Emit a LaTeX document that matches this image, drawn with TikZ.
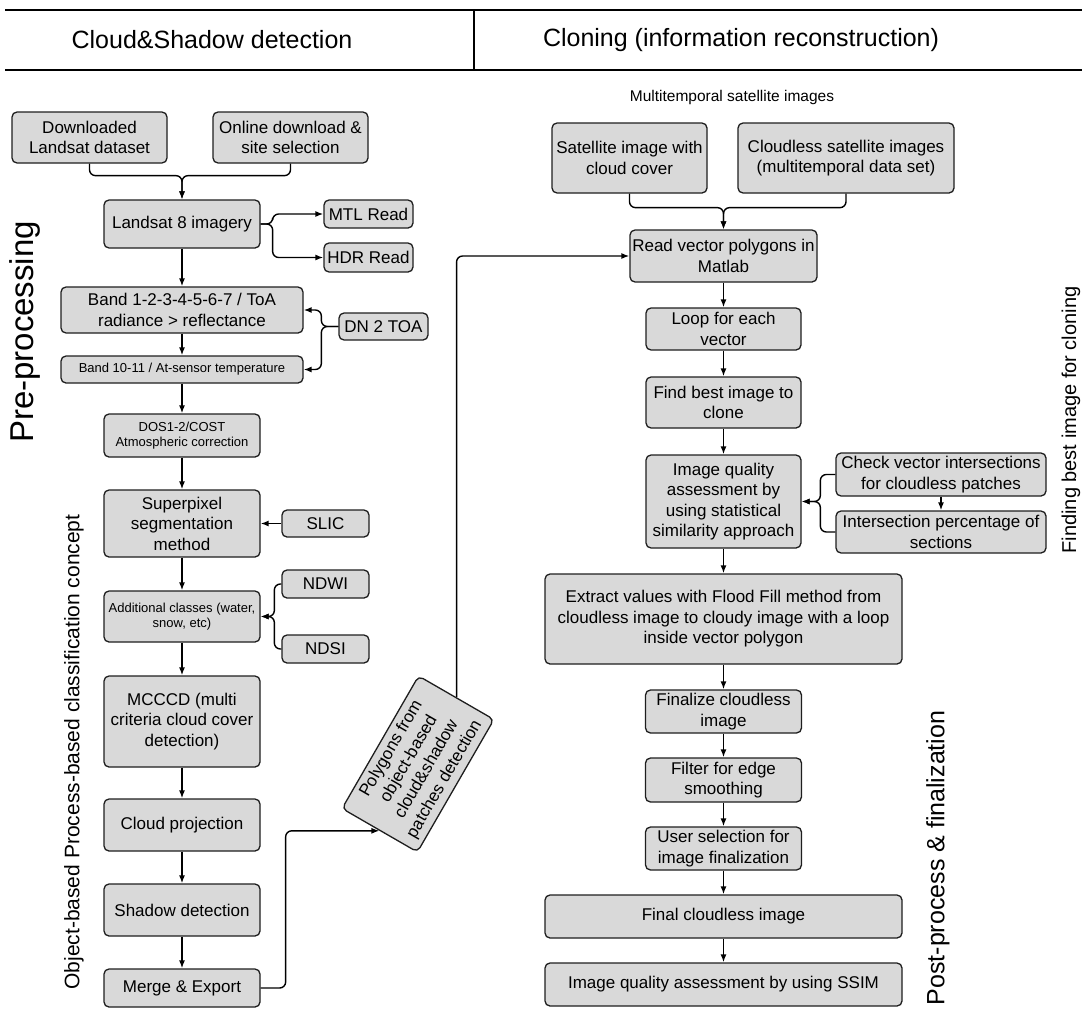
\documentclass[tikz,border=0pt]{standalone}
\usepackage{fontspec}
\setmainfont{Liberation Sans}
\usetikzlibrary{arrows.meta}
\definecolor{boxgray}{RGB}{217,217,217}
\definecolor{boxline}{RGB}{30,30,30}
\begin{document}
\begin{tikzpicture}[x=1pt,y=-1pt,
  box/.style={draw=boxline, fill=boxgray, rounded corners=5pt, line width=1.3pt,
    align=center, inner sep=0pt, font=\fontsize{17}{20.5}\selectfont},
  smallbox/.style={box, font=\fontsize{13}{15.5}\selectfont},
  arr/.style={-{Latex[length=8pt,width=6pt]}, line width=1.4pt, black},
  rc/.style={rounded corners=6pt},
  hdr/.style={font=\fontsize{25}{30}\selectfont, inner sep=0pt},
  sidelab/.style={rotate=90, inner sep=0pt}
]
\useasboundingbox (0,0) rectangle (1082,1009);
% header
\draw[line width=2.6pt] (5,10) -- (1082,10);
\draw[line width=2.6pt] (5,70) -- (1082,70);
\draw[line width=1.4pt] (474,10) -- (474,70);
\node[hdr] (t1) at (212,40) {Cloud\&Shadow detection};
\node[hdr] (t2) at (741,40) {Cloning (information reconstruction)};
\node[inner sep=0pt, font=\fontsize{15.5}{18}\selectfont] (mt) at (732,97) {Multitemporal satellite images};
% side labels
\node[sidelab, font=\fontsize{33}{38}\selectfont] (pre) at (25,332) {Pre-processing};
\node[sidelab, font=\fontsize{21}{25}\selectfont] (obj) at (74,752) {Object-based Process-based classification concept};
\node[sidelab, font=\fontsize{20}{24}\selectfont] (find) at (1071,420) {Finding best image for cloning};
\node[sidelab, font=\fontsize{25}{30}\selectfont] (post) at (938,858) {Post-process \& finalization};
% left column
\node[box, minimum width=155, minimum height=51] (dl) at (89.5,137.5) {Downloaded\\Landsat dataset};
\node[box, minimum width=155, minimum height=51] (od) at (290.5,137.5) {Online download \&\\site selection};
\node[box, minimum width=156, minimum height=48] (ls) at (182,224) {Landsat 8 imagery};
\node[box, minimum width=89, minimum height=28] (mtl) at (368.5,214) {MTL Read};
\node[box, minimum width=89, minimum height=29] (hdrr) at (368.5,257.5) {HDR Read};
\node[box, minimum width=242, minimum height=46] (b17) at (182,310) {Band 1-2-3-4-5-6-7 / ToA\\radiance > reflectance};
\node[smallbox, minimum width=242, minimum height=27] (b1011) at (182,369.5) {Band 10-11 / At-sensor temperature};
\node[box, minimum width=89, minimum height=27] (dn) at (383.5,326.5) {DN 2 TOA};
\node[smallbox, minimum width=156, minimum height=43] (dos) at (182,435.5) {DOS1-2/COST\\Atmospheric correction};
\node[box, minimum width=156, minimum height=67] (sp) at (182,523.5) {Superpixel\\segmentation\\method};
\node[box, minimum width=87, minimum height=27] (slic) at (325.5,523.5) {SLIC};
\node[smallbox, minimum width=156, minimum height=51] (add) at (182,616.5) {Additional classes (water,\\snow, etc)};
\node[box, minimum width=87, minimum height=28] (ndwi) at (325.5,584) {NDWI};
\node[box, minimum width=87, minimum height=28] (ndsi) at (325.5,649) {NDSI};
\node[box, minimum width=156, minimum height=91] (mc) at (182,721.5) {MCCCD (multi\\criteria cloud cover\\detection)};
\node[box, minimum width=156, minimum height=52] (cp) at (182,825) {Cloud projection};
\node[box, minimum width=156, minimum height=52] (sd) at (182,910) {Shadow detection};
\node[box, minimum width=156, minimum height=38] (me) at (182,988) {Merge \& Export};
\node[box, rotate=60, minimum width=153, minimum height=87] (poly) at (418,764) {Polygons from\\object-based\\cloud\&shadow\\patches detection};
% right column
\node[box, minimum width=155, minimum height=70] (sat) at (629.5,158) {Satellite image with\\cloud cover};
\node[box, minimum width=216, minimum height=70] (cl) at (846,158) {Cloudless satellite images\\(multitemporal data set)};
\node[box, minimum width=187, minimum height=52] (rv) at (723.5,256) {Read vector polygons in\\Matlab};
\node[box, minimum width=155, minimum height=42] (lp) at (723.5,329) {Loop for each\\vector};
\node[box, minimum width=155, minimum height=51] (fb) at (723.5,402.5) {Find best image to\\clone};
\node[box, minimum width=155, minimum height=93] (iqa) at (723.5,501.5) {Image quality\\assessment by\\using statistical\\similarity approach};
\node[box, minimum width=210, minimum height=43] (cv) at (941,474.5) {Check vector intersections\\for cloudless patches};
\node[box, minimum width=210, minimum height=42] (ip) at (941,532) {Intersection percentage of\\sections};
\node[box, minimum width=357, minimum height=90] (ex) at (723.5,619) {Extract values with Flood Fill method from\\cloudless image to cloudy image with a loop\\inside vector polygon};
\node[box, minimum width=156, minimum height=43] (fc) at (723.5,711.5) {Finalize cloudless\\image};
\node[box, minimum width=156, minimum height=44] (fe) at (723.5,780) {Filter for edge\\smoothing};
\node[box, minimum width=156, minimum height=43] (us) at (723.5,848.5) {User selection for\\image finalization};
\node[box, minimum width=357, minimum height=43] (fi) at (723.5,916.5) {Final cloudless image};
\node[box, minimum width=357, minimum height=43] (ss) at (723.5,984.5) {Image quality assessment by using SSIM};
% left connectors
\draw[arr, rc] (dl.south) -- ++(0,12) -| (ls.north);
\draw[arr, rc] (od.south) -- ++(0,12) -| (ls.north);
\draw[arr, rc] (ls.east) -- ++(12,0) |- (mtl.west);
\draw[arr, rc] (ls.east) -- ++(12,0) |- (hdrr.west);
\draw[arr] (ls.south) -- (b17.north);
\draw[arr] (b17.south) -- (b1011.north);
\draw[arr, rc] (dn.west) -- ++(-17,0) |- (b17.east);
\draw[arr, rc] (dn.west) -- ++(-17,0) |- (b1011.east);
\draw[arr] (b1011.south) -- (dos.north);
\draw[arr] (dos.south) -- (sp.north);
\draw[arr] (slic.west) -- (sp.east);
\draw[arr] (sp.south) -- (add.north);
\draw[arr, rc] (ndwi.west) -- ++(-7,0) |- (add.east);
\draw[arr, rc] (ndsi.west) -- ++(-7,0) |- (add.east);
\draw[arr] (add.south) -- (mc.north);
\draw[arr] (mc.south) -- (cp.north);
\draw[arr] (cp.south) -- (sd.north);
\draw[arr] (sd.south) -- (me.north);
\draw[arr, rc] (me.east) -- ++(25,0) |- (poly.west);
\draw[arr, rc] (poly.east) |- (rv.west);
% right connectors
\draw[arr, rc] (sat.south) -- ++(0,14) -| (rv.north);
\draw[arr, rc] (cl.south) -- ++(0,14) -| (rv.north);
\draw[arr] (rv.south) -- (lp.north);
\draw[arr] (lp.south) -- (fb.north);
\draw[arr] (fb.south) -- (iqa.north);
\draw[arr] (cv.south) -- (ip.north);
\draw[arr, rc] (cv.west) -- ++(-15,0) |- (iqa.east);
\draw[arr, rc] (ip.west) -- ++(-15,0) |- (iqa.east);
\draw[arr] (iqa.south) -- (ex.north);
\draw[arr] (ex.south) -- (fc.north);
\draw[arr] (fc.south) -- (fe.north);
\draw[arr] (fe.south) -- (us.north);
\draw[arr] (us.south) -- (fi.north);
\draw[arr] (fi.south) -- (ss.north);
\end{tikzpicture}
\end{document}
